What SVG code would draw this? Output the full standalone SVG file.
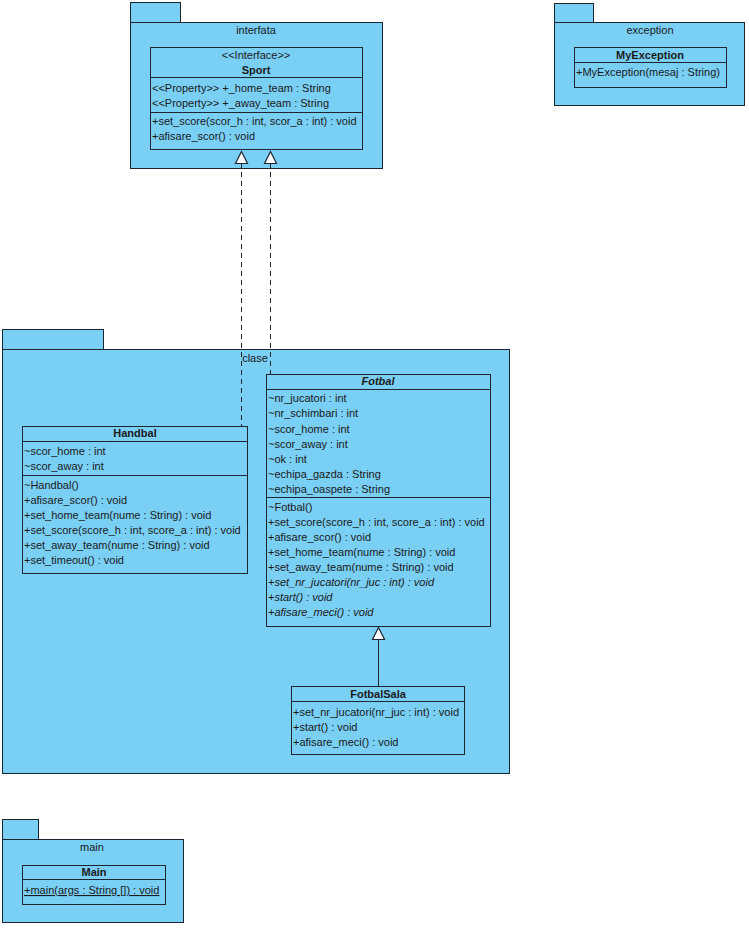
<svg xmlns="http://www.w3.org/2000/svg" width="749" height="928" viewBox="0 0 749 928">
<style>
.pkg{fill:#7acff5;stroke:#1e2430;stroke-width:1}
.cls{fill:#7acff5;stroke:#1e2430;stroke-width:1}
.div{stroke:#1e2430;stroke-width:1}
text{font-family:"Liberation Sans",Arial,sans-serif;font-size:11px;fill:#1a1a1a}
.c{text-anchor:middle}
.b{font-weight:bold}
.i{font-style:italic}
.u{text-decoration:underline}
.dash{fill:none;stroke:#1e2430;stroke-width:1;stroke-dasharray:5,4}
.solid{fill:none;stroke:#1e2430;stroke-width:1}
.tri{fill:#ffffff;stroke:#1e2430;stroke-width:1.2}
</style>
<rect width="749" height="928" fill="#ffffff"/>

<g id="pkg-interfata">
<rect class="pkg" x="130.5" y="2.5" width="50" height="20"/>
<rect class="pkg" x="130.5" y="22.5" width="252" height="146"/>
<text class="c" x="256" y="34">interfata</text>
</g>

<g id="pkg-exception">
<rect class="pkg" x="554.5" y="3.5" width="39" height="20"/>
<rect class="pkg" x="554.5" y="22.5" width="190" height="83"/>
<text class="c" x="650" y="34">exception</text>
</g>

<g id="pkg-clase">
<rect class="pkg" x="2.5" y="329.5" width="101" height="20"/>
<rect class="pkg" x="2.5" y="349.5" width="507" height="424"/>
<text class="c" x="255" y="362">clase</text>
</g>

<g id="pkg-main">
<rect class="pkg" x="2.5" y="819.5" width="36" height="20"/>
<rect class="pkg" x="2.5" y="839.5" width="181" height="83"/>
<text class="c" x="92" y="851">main</text>
</g>

<g id="Sport">
<rect class="cls" x="150.5" y="47.5" width="212" height="102"/>
<line class="div" x1="150.5" y1="77.5" x2="362.5" y2="77.5"/>
<line class="div" x1="150.5" y1="112.5" x2="362.5" y2="112.5"/>
<text class="c" x="256" y="59">&lt;&lt;Interface&gt;&gt;</text>
<text class="c b" x="256" y="74">Sport</text>
<text x="152" y="92">&lt;&lt;Property&gt;&gt; +_home_team : String</text>
<text x="152" y="107">&lt;&lt;Property&gt;&gt; +_away_team : String</text>
<text x="152" y="125">+set_score(scor_h : int, scor_a : int) : void</text>
<text x="152" y="140">+afisare_scor() : void</text>
</g>

<g id="MyException">
<rect class="cls" x="574.5" y="47.5" width="152" height="40"/>
<line class="div" x1="574.5" y1="62.5" x2="726.5" y2="62.5"/>
<text class="c b" x="650" y="59">MyException</text>
<text x="576" y="76">+MyException(mesaj : String)</text>
</g>

<g id="Handbal">
<rect class="cls" x="22.5" y="426.5" width="225" height="147"/>
<line class="div" x1="22.5" y1="441.5" x2="247.5" y2="441.5"/>
<line class="div" x1="22.5" y1="475.5" x2="247.5" y2="475.5"/>
<text class="c b" x="135" y="437">Handbal</text>
<text x="24" y="455">~scor_home : int</text>
<text x="24" y="470">~scor_away : int</text>
<text x="24" y="489">~Handbal()</text>
<text x="24" y="504">+afisare_scor() : void</text>
<text x="24" y="519">+set_home_team(nume : String) : void</text>
<text x="24" y="534">+set_score(score_h : int, score_a : int) : void</text>
<text x="24" y="549">+set_away_team(nume : String) : void</text>
<text x="24" y="564">+set_timeout() : void</text>
</g>

<g id="Fotbal">
<rect class="cls" x="266.5" y="374.5" width="224" height="252"/>
<line class="div" x1="266.5" y1="389.5" x2="490.5" y2="389.5"/>
<line class="div" x1="266.5" y1="497.5" x2="490.5" y2="497.5"/>
<text class="c b i" x="378" y="385">Fotbal</text>
<text x="268" y="402">~nr_jucatori : int</text>
<text x="268" y="417">~nr_schimbari : int</text>
<text x="268" y="433">~scor_home : int</text>
<text x="268" y="448">~scor_away : int</text>
<text x="268" y="463">~ok : int</text>
<text x="268" y="478">~echipa_gazda : String</text>
<text x="268" y="493">~echipa_oaspete : String</text>
<text x="268" y="511">~Fotbal()</text>
<text x="268" y="526">+set_score(score_h : int, score_a : int) : void</text>
<text x="268" y="541">+afisare_scor() : void</text>
<text x="268" y="556">+set_home_team(nume : String) : void</text>
<text x="268" y="571">+set_away_team(nume : String) : void</text>
<text class="i" x="268" y="586">+set_nr_jucatori(nr_juc : int) : void</text>
<text class="i" x="268" y="601">+start() : void</text>
<text class="i" x="268" y="616">+afisare_meci() : void</text>
</g>

<g id="FotbalSala">
<rect class="cls" x="291.5" y="686.5" width="173" height="68"/>
<line class="div" x1="291.5" y1="701.5" x2="464.5" y2="701.5"/>
<text class="c b" x="378" y="698">FotbalSala</text>
<text x="293" y="716">+set_nr_jucatori(nr_juc : int) : void</text>
<text x="293" y="731">+start() : void</text>
<text x="293" y="746">+afisare_meci() : void</text>
</g>

<g id="Main">
<rect class="cls" x="22.5" y="865.5" width="143" height="39"/>
<line class="div" x1="22.5" y1="879.5" x2="165.5" y2="879.5"/>
<text class="c b" x="94" y="876">Main</text>
<text class="u" x="24" y="894">+main(args : String []) : void</text>
</g>

<g id="connectors">
<line class="dash" x1="241.5" y1="163" x2="241.5" y2="426"/>
<polygon class="tri" points="241.5,151.5 235.5,163.5 247.5,163.5"/>
<line class="dash" x1="270.5" y1="163" x2="270.5" y2="374"/>
<polygon class="tri" points="270.5,151.5 264.5,163.5 276.5,163.5"/>
<line class="solid" x1="378.5" y1="639" x2="378.5" y2="686"/>
<polygon class="tri" points="378.5,627.5 372.5,639.5 384.5,639.5"/>
</g>
</svg>
